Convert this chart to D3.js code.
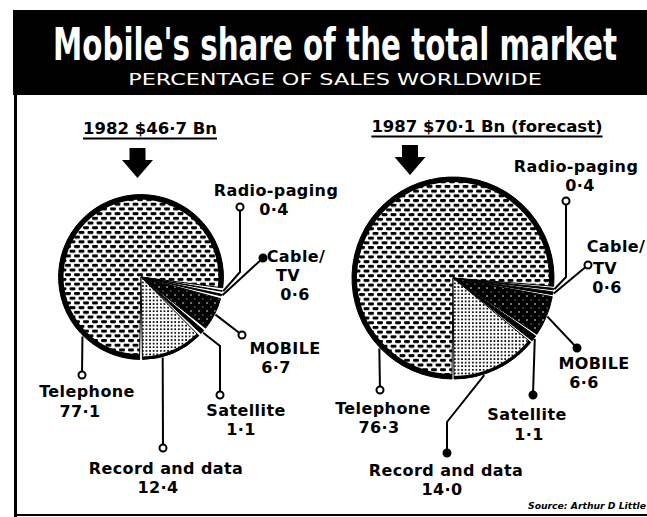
<!DOCTYPE html>
<html>
<head>
<meta charset="utf-8">
<script src="https://cdn.jsdelivr.net/npm/d3@7"></script>
<style>
body { margin: 0; background: #fff; }
svg { display: block; }
.lbl { font-family: "DejaVu Sans", sans-serif; font-weight: bold; font-size: 16px; letter-spacing: 0.4px; }
</style>
</head>
<body>
<svg></svg>
<script>
// data (percentage of sales worldwide)
var segments = ["Telephone", "Radio-paging", "Cable/TV", "MOBILE", "Satellite", "Record and data"];
var years = ["1982", "1987"];
var totals = [46.7, 70.1];            // $ Bn
var share1982 = [77.1, 0.4, 0.6, 6.7, 1.1, 12.4];
var share1987 = [76.3, 0.4, 0.6, 6.6, 1.1, 14.0];
var shares = [share1982, share1987];

// look of each segment
var fills = ["url(#brick)", "#000", "#000", "url(#speck)", "#000", "url(#dots)"];
var rims = [5, 0, 0, 0, 0, 3];

// where each pie and its labels sit
var layout = [
  {cx: 141, cy: 277, headX: 150, headY: 134, arrowX: 137.5, arrowY: 148,
   labels: [
     {f: .16, mark: [82, 375], open: true, pos: [[87, 397], [80, 417]]},
     {f: .5, bend: [[240, 272]], mark: [240, 207], open: true, pos: [[276, 196], [274, 215]]},
     {f: .5, mark: [263, 258], open: false, pos: [[296, 262], [288, 281], [295, 300]]},
     {f: .5, mark: [242, 335], open: true, pos: [[285, 354], [276, 373]]},
     {f: .5, bend: [[220, 346]], mark: [220, 395], open: true, pos: [[246, 416], [241, 435]]},
     {f: .67, mark: [163, 448], open: true, pos: [[166, 474], [158, 493]]}
   ]},
  {cx: 453, cy: 278, headX: 487, headY: 132, arrowX: 410, arrowY: 145,
   labels: [
     {f: .168, mark: [380, 390], open: true, pos: [[383, 414], [379, 433]]},
     {f: .5, bend: [[566, 277]], mark: [566, 201], open: true, pos: [[576, 172], [580, 191]]},
     {f: .5, mark: [588, 265], open: true, pos: [[616, 252], [605, 274], [607, 293]]},
     {f: .5, mark: [577, 348], open: false, pos: [[594, 369], [584, 388]]},
     {f: .5, mark: [533, 395], open: false, pos: [[527, 420], [529, 440]]},
     {f: .65, bend: [[447, 422]], mark: [447, 453], open: false, pos: [[446, 476], [442, 495]]}
   ]}
];

var width = 647, height = 517;
var fmt = function(v) { return d3.format(".1f")(v).replace(".", "·"); };

// pie area follows market size
var radius = d3.scaleSqrt().domain([0, d3.max(totals)]).range([0, 101]);

var svg = d3.select("svg")
    .attr("width", width)
    .attr("height", height);

// fill patterns
var defs = svg.append("defs");
var brick = defs.append("pattern").attr("id", "brick")
    .attr("patternUnits", "userSpaceOnUse").attr("width", 9).attr("height", 9.4);
brick.append("rect").attr("width", 9).attr("height", 9.4).attr("fill", "#fff");
[[0.5, 1], [5, 5.7], [-4, 5.7]].forEach(function(p) {
  brick.append("rect").attr("x", p[0]).attr("y", p[1])
      .attr("width", 6).attr("height", 2.9).attr("rx", 1.2).attr("fill", "#000");
});

var dots = defs.append("pattern").attr("id", "dots")
    .attr("patternUnits", "userSpaceOnUse").attr("width", 3.6).attr("height", 3.6);
dots.append("rect").attr("width", 3.6).attr("height", 3.6).attr("fill", "#fff");
dots.append("rect").attr("x", 1).attr("y", 1).attr("width", 1.7).attr("height", 1.7).attr("fill", "#000");

var speck = defs.append("pattern").attr("id", "speck")
    .attr("patternUnits", "userSpaceOnUse").attr("width", 8).attr("height", 8);
speck.append("rect").attr("width", 8).attr("height", 8).attr("fill", "#000");
speck.append("circle").attr("cx", 2).attr("cy", 2).attr("r", 0.8).attr("fill", "#fff");
speck.append("circle").attr("cx", 6).attr("cy", 6).attr("r", 0.6).attr("fill", "#fff");

// banner
svg.append("rect").attr("x", 13).attr("y", 10).attr("width", width - 13).attr("height", 85).attr("fill", "#000");

// squeeze/stretch a text to a given width around its centre
function fitText(sel, cx, y, w) {
  var nw = sel.node().getComputedTextLength();
  sel.attr("text-anchor", "middle")
     .attr("transform", "translate(" + cx + "," + y + ") scale(" + (w / nw) + ",1)");
}

var title = svg.append("text")
    .style("font-family", "'Liberation Sans Narrow', 'DejaVu Sans Condensed', sans-serif")
    .style("font-weight", "bold").style("font-size", "45px")
    .attr("fill", "#fff")
    .text("Mobile's share of the total market");
fitText(title, 335, 60, 564);

var sub = svg.append("text")
    .style("font-family", "'DejaVu Sans', sans-serif")
    .style("font-weight", "normal").style("font-size", "16.5px")
    .attr("fill", "#fff")
    .text("PERCENTAGE OF SALES WORLDWIDE");
fitText(sub, 335, 85, 414);

// frame
svg.append("line").attr("x1", 15.5).attr("x2", 15.5).attr("y1", 95).attr("y2", height)
    .attr("stroke", "#000").attr("stroke-width", 3);
svg.append("line").attr("x1", 14).attr("x2", width).attr("y1", 515).attr("y2", 515)
    .attr("stroke", "#000").attr("stroke-width", 2);

layout.forEach(function(L, k) {
  var vals = shares[k];
  var r = radius(totals[k]);
  var g = svg.append("g");

  // heading with underline
  var head = g.append("text").attr("class", "lbl")
      .attr("x", L.headX).attr("y", L.headY)
      .attr("text-anchor", "middle")
      .style("font-size", "16.5px").style("letter-spacing", "0px")
      .text(years[k] + " $" + fmt(totals[k]) + " Bn" + (k === 1 ? " (forecast)" : ""));
  var hw = head.node().getComputedTextLength();
  g.append("line")
      .attr("x1", L.headX - hw / 2).attr("x2", L.headX + hw / 2)
      .attr("y1", L.headY + 4.5).attr("y2", L.headY + 4.5)
      .attr("stroke", "#000").attr("stroke-width", 2);

  // down arrow
  g.append("path")
      .attr("transform", "translate(" + L.arrowX + "," + L.arrowY + ")")
      .attr("d", "M-8,0h16v12h7.5l-15.5,18l-15.5,-18h7.5z")
      .attr("fill", "#000");

  // slices; the share not listed shows as the white gaps
  var pie = d3.pie().sort(null).value(function(d) { return d; })
      .startAngle(Math.PI).endAngle(3 * Math.PI)
      .padAngle(2 * Math.PI * (100 - d3.sum(vals)) / 100 / vals.length);
  var arcs = pie(vals);
  var arc = d3.arc().innerRadius(0).outerRadius(r).padRadius(r * 2);

  var pg = g.append("g").attr("transform", "translate(" + L.cx + "," + L.cy + ")");
  pg.selectAll(".slice")
      .data(arcs)
    .enter().append("path")
      .attr("class", "slice")
      .attr("d", arc)
      .attr("fill", function(d, i) { return fills[i]; })
      .attr("stroke", "#000").attr("stroke-width", 1);

  // heavy rim on the big slices
  pg.selectAll(".rim")
      .data(arcs.filter(function(d, i) { return rims[i] > 0; }))
    .enter().append("path")
      .attr("class", "rim")
      .attr("d", function(d) {
        var w = rims[d.index];
        return d3.arc().innerRadius(r - w).outerRadius(r).padRadius(r * 2)(d);
      })
      .attr("fill", "#000");

  // leader lines, markers and labels
  var line = d3.line();
  arcs.forEach(function(d, i) {
    var lb = L.labels[i];
    var a = d.startAngle + lb.f * (d.endAngle - d.startAngle);
    var start = [L.cx + (r + 1) * Math.sin(a), L.cy - (r + 1) * Math.cos(a)];
    var pts = [start].concat(lb.bend || []).concat([lb.mark]);
    g.append("path")
        .attr("d", line(pts))
        .attr("fill", "none")
        .attr("stroke", "#000").attr("stroke-width", 2);
    g.append("circle")
        .attr("cx", lb.mark[0]).attr("cy", lb.mark[1]).attr("r", 3.5)
        .attr("fill", lb.open ? "#fff" : "#000")
        .attr("stroke", "#000").attr("stroke-width", 2);

    var name = segments[i];
    var lines = name.indexOf("/") > 0 ? [name.split("/")[0] + "/", name.split("/")[1]] : [name];
    lines.push(fmt(d.data));
    lines.forEach(function(t, j) {
      g.append("text").attr("class", "lbl")
          .attr("x", lb.pos[j][0]).attr("y", lb.pos[j][1])
          .attr("text-anchor", "middle")
          .text(t);
    });
  });
});

// source
svg.append("text")
    .attr("x", 528).attr("y", 509)
    .attr("textLength", 118).attr("lengthAdjust", "spacingAndGlyphs")
    .style("font-family", "'DejaVu Sans', sans-serif")
    .style("font-weight", "bold").style("font-style", "italic").style("font-size", "8px")
    .text("Source: Arthur D Little");
</script>
</body>
</html>
